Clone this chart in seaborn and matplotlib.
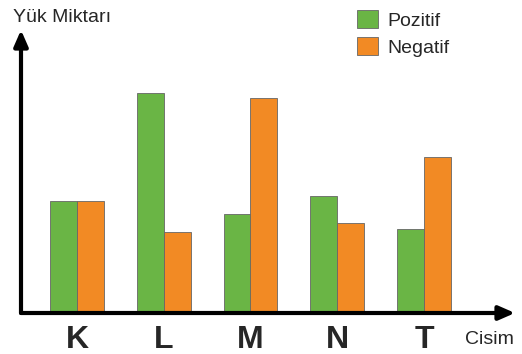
import pandas as pd
import matplotlib.pyplot as plt
import seaborn as sns

cisim = ["K", "L", "M", "N", "T"]
pozitif = [112, 220, 99, 117, 84]
negatif = [112, 81, 215, 90, 156]

df = pd.DataFrame({"Cisim": cisim * 2,
                   "Yük": pozitif + negatif,
                   "Tür": ["Pozitif"] * 5 + ["Negatif"] * 5})

sns.set_theme(style="white")
plt.rcParams['font.family'] = ['Liberation Sans', 'DejaVu Sans']

fig = plt.figure(figsize=(5.22, 3.54), dpi=100)
ax = fig.add_axes([21 / 522, 41 / 354, 494 / 522, 283 / 354])
sns.barplot(data=df, x="Cisim", y="Yük", hue="Tür", width=0.62,
            palette=["#6ab545", "#f28a24"], edgecolor="#666666", linewidth=0.6,
            saturation=1, ax=ax)

ax.set_xlim((21 - 77) / 86.75, (515 - 77) / 86.75)
ax.set_ylim(0, 283)
for s in ax.spines.values():
    s.set_visible(False)
ax.set_yticks([])
ax.set_xticks([])
ax.set_xlabel("")
ax.set_ylabel("")

arrow = dict(arrowstyle="-|>,head_length=0.8,head_width=0.35", lw=3, color="black",
             shrinkA=0, shrinkB=0)
ax.annotate("", xy=(0, 1), xytext=(0, 0), xycoords="axes fraction", arrowprops=arrow)
ax.annotate("", xy=(1, 0), xytext=(0, 0), xycoords="axes fraction", arrowprops=arrow)

for i, c in enumerate(cisim):
    ax.text(i, -27, c, ha="center", va="center", fontsize=23, fontweight="bold",
            clip_on=False)

fig.text(13 / 522, 1 - 18 / 354, "Yük Miktarı", ha="left", va="center", fontsize=14)
fig.text(465 / 522, 1 - 340 / 354, "Cisim", ha="left", va="center", fontsize=14)

sns.move_legend(ax, loc="upper left", bbox_to_anchor=(343 / 522, 1 + 4 / 354),
                bbox_transform=fig.transFigure, frameon=False, title=None,
                fontsize=14, handlelength=1.1, handleheight=1.1, labelspacing=0.36,
                handletextpad=0.5, borderaxespad=0.3)

fig.savefig("out.png", dpi=100)
